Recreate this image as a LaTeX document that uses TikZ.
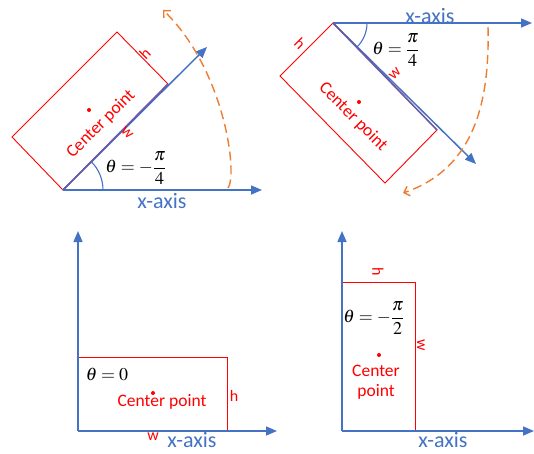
\documentclass[tikz,border=0pt]{standalone}
\usepackage{amsmath}
\usepackage{mathptmx}
\usepackage{fontspec}
\setsansfont{Carlito}
\usetikzlibrary{arrows.meta}
\definecolor{axblue}{HTML}{4472C4}
\definecolor{arcorange}{HTML}{ED7D31}
\definecolor{edgemix}{HTML}{6A5AA8}
\newcommand{\myeq}{\mskip4mu{=}\mskip4mu}
\begin{document}
\begin{tikzpicture}[x=1pt,y=-1pt,
  axis/.style={draw=axblue, line width=1.5pt, -{Triangle[length=11pt,width=9pt]}},
  sharededge/.style={draw=edgemix, line width=1.5pt},
  box/.style={draw=red, line width=0.9pt},
  redlbl/.style={text=red, font=\sffamily\fontsize{17.5}{20}\selectfont, inner sep=0pt},
  smalllbl/.style={text=red, font=\sffamily\fontsize{16}{16}\selectfont, inner sep=0pt},
  axlbl/.style={text=axblue, font=\sffamily\fontsize{22}{22}\selectfont, inner sep=0pt},
  mathlbl/.style={font=\fontsize{18}{21}\selectfont, inner sep=0pt},
  dot/.style={circle, fill=red, inner sep=0pt, minimum size=4pt},
  rotarrow/.style={draw=arcorange, line width=1.4pt, dash pattern=on 9pt off 5pt, -{Straight Barb[length=5pt,width=10pt]}},
  anglearc/.style={draw=axblue, line width=1.1pt}]
\useasboundingbox (0,0) rectangle (534,453);

% ---------- Panel 1 (top left) ----------
\coordinate (O1) at (63,190);
\coordinate (X1) at (262,190);
\coordinate (D1) at (207,47);
\coordinate (R1a) at (12,137);
\coordinate (R1b) at (117,32);
\coordinate (R1c) at (168,84);
\draw[box] (O1) -- (R1a) -- (R1b) -- (R1c) -- cycle;
\draw[axis] (O1) -- (X1);
\draw[axis] (O1) -- (D1);
\draw[sharededge] (O1) -- (R1c);
\draw[anglearc] (103,190) .. controls (103,179.4) and (98.8,169.2) .. (91.3,161.7);
\coordinate (A1s) at (228,188);
\coordinate (A1e) at (163,10);
\draw[rotarrow] (A1s) .. controls (238,175) and (225,70) .. (A1e);
\node[dot] (c1) at (89,110) {};
\node[redlbl, rotate=45] (cp1) at (101,124) {Center point};
\node[smalllbl, rotate=45] (h1) at (145,54) {h};
\node[smalllbl, rotate=-45] (w1) at (127,133) {w};
\node[mathlbl] (t1) at (136,168) {$\theta\myeq{-}\dfrac{\pi}{4}$};
\node[axlbl] (xl1) at (162,201) {x-axis};

% ---------- Panel 2 (top right) ----------
\coordinate (O2) at (333,23);
\coordinate (X2) at (532,23);
\coordinate (D2) at (476,164);
\coordinate (R2a) at (280,76);
\coordinate (R2b) at (385,183);
\coordinate (R2c) at (437,130);
\draw[box] (O2) -- (R2a) -- (R2b) -- (R2c) -- cycle;
\draw[axis] (O2) -- (X2);
\draw[axis] (O2) -- (D2);
\draw[sharededge] (O2) -- (R2c);
\draw[anglearc] (367,23) .. controls (367,32) and (363.4,40.6) .. (357,47);
\coordinate (A2s) at (488,27);
\coordinate (A2e) at (403,193);
\draw[rotarrow] (A2s) .. controls (490,110) and (470,170) .. (A2e);
\node[dot] (c2) at (359,102) {};
\node[redlbl, rotate=-45] (cp2) at (353,117) {Center point};
\node[smalllbl, rotate=-45] (h2) at (300,44) {h};
\node[smalllbl, rotate=45] (w2) at (395,74) {w};
\node[mathlbl] (t2) at (396,50) {$\theta\myeq\dfrac{\pi}{4}$};
\node[axlbl] (xl2) at (430,16) {x-axis};

% ---------- Panel 3 (bottom left) ----------
\coordinate (O3) at (78,431);
\coordinate (Y3) at (78,231);
\coordinate (X3) at (277,431);
\draw[box] (78,357) rectangle (227,431);
\draw[axis] (O3) -- (Y3);
\draw[axis] (O3) -- (X3);
\node[mathlbl] (t3) at (107,374) {$\theta\myeq 0$};
\node[dot] (c3) at (153,393) {};
\node[redlbl] (cp3) at (162,402) {Center point};
\node[smalllbl] (h3) at (234,396) {h};
\node[smalllbl] (w3) at (153,437) {w};
\node[axlbl] (xl3) at (192,440) {x-axis};

% ---------- Panel 4 (bottom right) ----------
\coordinate (O4) at (342,431);
\coordinate (Y4) at (342,231);
\coordinate (X4) at (534,431);
\draw[box] (342,282) rectangle (415,431);
\draw[axis] (O4) -- (Y4);
\draw[axis] (O4) -- (X4);
\node[smalllbl, rotate=-90] (h4) at (378,272) {h};
\node[smalllbl, rotate=-90] (w4) at (421,345) {w};
\node[mathlbl] (t4) at (374,318) {$\theta\myeq{-}\dfrac{\pi}{2}$};
\node[dot] (c4) at (379,355) {};
\node[redlbl, align=center] (cp4) at (376,382) {Center\\point};
\node[axlbl] (xl4) at (443,440) {x-axis};
\end{tikzpicture}
\end{document}
